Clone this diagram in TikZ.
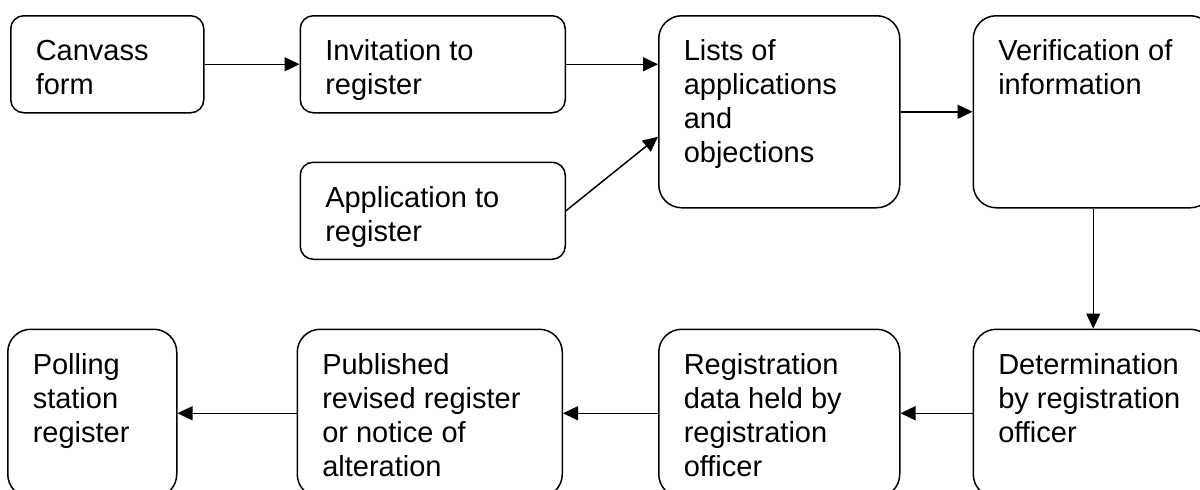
\documentclass[tikz,border=0pt]{standalone}
\usepackage{fontspec}
\setmainfont{Liberation Sans}
\usetikzlibrary{arrows.meta, positioning}
\newcommand{\boxtext}[3]{\parbox[c][#2][t]{#1}{\raggedright\leftskip=25pt\rule{0pt}{45pt}#3}}

\begin{document}
\begin{tikzpicture}[
    node distance=95pt,
    every node/.style={font=\fontsize{29pt}{34pt}\selectfont},
    smallbox/.style={rectangle, draw, line width=1.5pt, rounded corners=13pt, inner sep=0pt},
    bigbox/.style={rectangle, draw, line width=1.5pt, rounded corners=23pt, inner sep=0pt},
    arrow/.style={-{Triangle[length=15pt, width=14pt]}, line width=1.5pt}
]
    \useasboundingbox (0,0) rectangle (1200pt,-490pt);
    \node[smallbox, anchor=north west] (canvass) at (10pt,-15pt) {\boxtext{193pt}{97pt}{Canvass\\form}};
    \node[smallbox, right=of canvass] (invite) {\boxtext{265pt}{97pt}{Invitation to\\register}};
    \node[smallbox, below=48pt of invite] (apply) {\boxtext{265pt}{97pt}{Application to\\register}};
    \node[bigbox, anchor=north west] (lists) at (658pt,-15pt) {\boxtext{241pt}{192pt}{Lists of\\applications\\and\\objections}};
    \node[bigbox, right=72pt of lists] (verif) {\boxtext{240pt}{192pt}{Verification of\\information}};
    \node[bigbox, below=120pt of verif] (determ) {\boxtext{240pt}{168pt}{Determination\\by registration\\officer}};
    \node[bigbox, left=72pt of determ] (regdata) {\boxtext{241pt}{168pt}{Registration\\data held by\\registration\\officer}};
    \node[bigbox, left=of regdata] (published) {\boxtext{265pt}{168pt}{Published\\revised register\\or notice of\\alteration}};
    \node[bigbox, left=119pt of published] (polling) {\boxtext{169pt}{168pt}{Polling\\station\\register}};
    \draw[arrow] (canvass) -- (invite);
    \draw[arrow] (invite.east) -- (invite.east -| lists.west);
    \draw[arrow] (apply.east) -- ([yshift=-25pt]lists.west);
    \draw[arrow] (lists) -- (verif);
    \draw[arrow] (verif) -- (determ);
    \draw[arrow] (determ) -- (regdata);
    \draw[arrow] (regdata) -- (published);
    \draw[arrow] (published) -- (polling);
\end{tikzpicture}
\end{document}
